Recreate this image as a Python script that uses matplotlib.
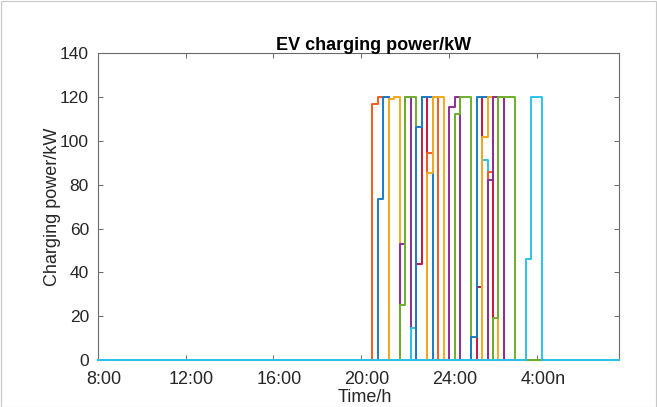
import numpy as np
import matplotlib
matplotlib.use("Agg")
import matplotlib.pyplot as plt
import matplotlib.transforms as mtransforms
from matplotlib.patches import Rectangle

plt.rcParams["font.family"] = ["Liberation Sans", "DejaVu Sans"]

# 15-minute time steps over one day, starting at 8:00
steps = np.arange(1, 97)
tick_steps = [1, 17, 33, 49, 65, 81]
tick_labels = ["8:00", "12:00", "16:00", "20:00", "24:00", "4:00n"]

# charging profile of each EV: first step index and the power (kW) of each step
ev_start = [51, 52, 54, 56, 56, 58, 59, 59, 61, 61,
            65, 66, 70, 69, 71, 71, 72, 72, 73, 79]
ev_power = [
    [117, 120, 120],
    [73.5, 120],
    [119.2, 120],
    [52.8, 120],
    [25.1, 120, 120],
    [14.8],
    [43.8, 120],
    [106.5, 120, 120],
    [94.6, 120],
    [85.5, 120, 120],
    [115.6, 120],
    [112.1, 120, 120],
    [33.5, 120, 120],
    [10.6, 120, 120, 120, 120, 120],
    [91.2],
    [101.9, 120, 120],
    [85.7, 120, 120],
    [82.2, 120, 120],
    [19.0, 120, 120, 120],
    [46.1, 120, 120],
]
ev_color = ["O", "B", "Y", "P", "G", "C", "R", "B", "O", "Y",
            "P", "G", "R", "B", "C", "Y", "O", "P", "G", "C"]

palette = {
    "B": "#1a7cc6",
    "O": "#f65a1e",
    "Y": "#f5aa1c",
    "P": "#8c2e96",
    "G": "#6cb02a",
    "C": "#2cc2ef",
    "R": "#c8163c",
}

fig = plt.figure(figsize=(6.57, 4.07), dpi=100)
ax = fig.add_axes([0.1487, 0.1155, 0.7939, 0.7536])

for start, power, c in zip(ev_start, ev_power, ev_color):
    p = np.zeros(len(steps))
    p[start - 1:start - 1 + len(power)] = power
    ax.step(steps, p, where="post", color=palette[c], lw=1.4,
            clip_on=False, zorder=3)

ax.set_xlim(1, 96)
ax.set_ylim(0, 140)
ax.set_xticks(tick_steps)
ax.set_xticklabels(tick_labels)
ax.set_yticks(np.arange(0, 141, 20))

for s in ax.spines.values():
    s.set_color("#6a6a6a")
    s.set_linewidth(0.8)
ax.tick_params(direction="in", length=3.5, width=0.7, color="#6a6a6a",
               labelsize=13, labelcolor="#262626", top=True, right=True)
ax.tick_params(axis="x", pad=8)
ax.tick_params(axis="y", pad=6.3, labelsize=12.5)

shift = mtransforms.ScaledTranslation(0.06, 0, fig.dpi_scale_trans)
for lbl in ax.get_xticklabels():
    lbl.set_transform(lbl.get_transform() + shift)

ax.set_title("EV charging power/kW", fontsize=13, fontweight="bold",
             color="#000000", pad=2, x=0.528)
ax.set_xlabel("Time/h", fontsize=13, color="#262626")
ax.set_ylabel("Charging power/kW", fontsize=13, color="#262626")
ax.xaxis.set_label_coords(0.5115, -0.095)
ax.yaxis.set_label_coords(-0.071, 0.5)

# thin frame around the whole figure
fig.patches.append(Rectangle((0.001, 0.001), 0.998, 0.997,
                             transform=fig.transFigure, fill=False,
                             edgecolor="#c8c8c8", lw=0.8))

fig.savefig("out.png", dpi=100)
